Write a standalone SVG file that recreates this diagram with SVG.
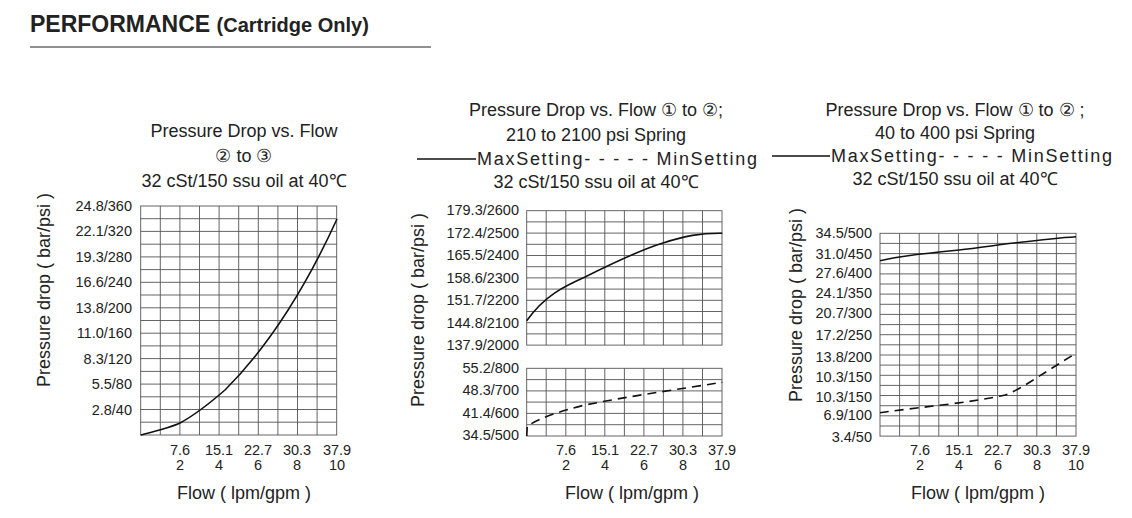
<svg xmlns="http://www.w3.org/2000/svg" width="1132" height="518" viewBox="0 0 1132 518">
<style>
text{font-family:"Liberation Sans",Arial,sans-serif;fill:#222}
.t{font-size:18px;text-anchor:middle}
.l{font-size:18px}
.k{font-size:14.5px;text-anchor:end}
.x{font-size:14.5px;text-anchor:middle}
.g{stroke:#555;stroke-width:0.9;fill:none}
.c{stroke:#111;stroke-width:1.6;fill:none}
.d{stroke:#111;stroke-width:1.6;fill:none;stroke-dasharray:9,6}
</style>
<text x="30" y="32" style="font-size:23px;font-weight:bold">PERFORMANCE <tspan style="font-size:20px">(Cartridge Only)</tspan></text>
<line x1="30" y1="47" x2="431" y2="47" stroke="#222" stroke-width="1.2"/>

<g id="chart1">
<text class="t" x="244" y="137">Pressure Drop vs. Flow</text>
<text class="t" x="244" y="162">② to ③</text>
<text class="t" x="244" y="187">32 cSt/150 ssu oil at 40℃</text>
<text class="t" transform="translate(50,290) rotate(-90)">Pressure drop ( bar/psi )</text>
<rect x="140.7" y="206" width="196" height="229" class="g"/>
<path class="g" d="M160.3 206V435M179.9 206V435M199.5 206V435M219.1 206V435M238.7 206V435M258.3 206V435M277.9 206V435M297.5 206V435M317.1 206V435M140.7 218.7H336.7M140.7 231.4H336.7M140.7 244.2H336.7M140.7 256.9H336.7M140.7 269.6H336.7M140.7 282.3H336.7M140.7 295H336.7M140.7 307.8H336.7M140.7 320.5H336.7M140.7 333.2H336.7M140.7 345.9H336.7M140.7 358.6H336.7M140.7 371.4H336.7M140.7 384.1H336.7M140.7 396.8H336.7M140.7 409.5H336.7M140.7 422.2H336.7"/>
<g class="k">
<text x="132" y="211">24.8/360</text><text x="132" y="236">22.1/320</text><text x="132" y="262">19.3/280</text><text x="132" y="287">16.6/240</text><text x="132" y="313">13.8/200</text><text x="132" y="338">11.0/160</text><text x="132" y="364">8.3/120</text><text x="132" y="389">5.5/80</text><text x="132" y="415">2.8/40</text>
</g>
<g class="x">
<text x="180" y="455">7.6</text><text x="219" y="455">15.1</text><text x="258" y="455">22.7</text><text x="297" y="455">30.3</text><text x="337" y="455">37.9</text>
<text x="180" y="470">2</text><text x="219" y="470">4</text><text x="258" y="470">6</text><text x="297" y="470">8</text><text x="337" y="470">10</text>
</g>
<text class="t" x="244" y="499">Flow ( lpm/gpm )</text>
</g>

<g id="chart2">
<text class="t" x="596" y="116">Pressure Drop vs. Flow ① to ②;</text>
<text class="t" x="596" y="141">210 to 2100 psi Spring</text>
<text class="l" x="477" y="165" textLength="280" lengthAdjust="spacing">MaxSetting- - - - - MinSetting</text>
<text class="t" x="596" y="188">32 cSt/150 ssu oil at 40℃</text>
<text class="t" transform="translate(424,310) rotate(-90)">Pressure drop ( bar/psi )</text>
<rect x="526.7" y="210.7" width="195.3" height="134.4" class="g"/>
<rect x="526.7" y="368.3" width="195.3" height="67.7" class="g"/>
<path class="g" d="M546.2 210.7V345.1M565.8 210.7V345.1M585.3 210.7V345.1M604.8 210.7V345.1M624.4 210.7V345.1M643.9 210.7V345.1M663.4 210.7V345.1M682.9 210.7V345.1M702.5 210.7V345.1M546.2 368.3V436M565.8 368.3V436M585.3 368.3V436M604.8 368.3V436M624.4 368.3V436M643.9 368.3V436M663.4 368.3V436M682.9 368.3V436M702.5 368.3V436M526.7 221.9H722M526.7 233.1H722M526.7 244.3H722M526.7 255.5H722M526.7 266.7H722M526.7 277.9H722M526.7 289.1H722M526.7 300.3H722M526.7 311.5H722M526.7 322.7H722M526.7 333.9H722M526.7 379.6H722M526.7 390.9H722M526.7 402.1H722M526.7 413.4H722M526.7 424.7H722"/>
<g class="k">
<text x="519" y="215">179.3/2600</text><text x="519" y="238">172.4/2500</text><text x="519" y="260">165.5/2400</text><text x="519" y="283">158.6/2300</text><text x="519" y="305">151.7/2200</text><text x="519" y="328">144.8/2100</text><text x="519" y="350">137.9/2000</text>
<text x="519" y="373">55.2/800</text><text x="519" y="395">48.3/700</text><text x="519" y="418">41.4/600</text><text x="519" y="440">34.5/500</text>
</g>
<g class="x">
<text x="566" y="455">7.6</text><text x="605" y="455">15.1</text><text x="644" y="455">22.7</text><text x="683" y="455">30.3</text><text x="722" y="455">37.9</text>
<text x="566" y="470">2</text><text x="605" y="470">4</text><text x="644" y="470">6</text><text x="683" y="470">8</text><text x="722" y="470">10</text>
</g>
<text class="t" x="632" y="499">Flow ( lpm/gpm )</text>
</g>

<g id="chart3">
<text class="t" x="955" y="116">Pressure Drop vs. Flow ① to ② ;</text>
<text class="t" x="955" y="139">40 to 400 psi Spring</text>
<text class="l" x="831" y="162" textLength="281" lengthAdjust="spacing">MaxSetting- - - - - MinSetting</text>
<text class="t" x="955" y="185">32 cSt/150 ssu oil at 40℃</text>
<text class="t" transform="translate(802,305) rotate(-90)">Pressure drop ( bar/psi )</text>
<rect x="880" y="233.3" width="196" height="202.8" class="g"/>
<path class="g" d="M899.6 233.3V436.1M919.2 233.3V436.1M938.8 233.3V436.1M958.4 233.3V436.1M978 233.3V436.1M997.6 233.3V436.1M1017.2 233.3V436.1M1036.8 233.3V436.1M1056.4 233.3V436.1M880 243.4H1076M880 253.6H1076M880 263.7H1076M880 273.9H1076M880 284H1076M880 294.1H1076M880 304.3H1076M880 314.4H1076M880 324.6H1076M880 334.7H1076M880 344.8H1076M880 355H1076M880 365.1H1076M880 375.3H1076M880 385.4H1076M880 395.5H1076M880 405.7H1076M880 415.8H1076M880 426H1076"/>
<g class="k">
<text x="872" y="238">34.5/500</text><text x="872" y="259">31.0/450</text><text x="872" y="278">27.6/400</text><text x="872" y="298">24.1/350</text><text x="872" y="318">20.7/300</text><text x="872" y="340">17.2/250</text><text x="872" y="362">13.8/200</text><text x="872" y="382">10.3/150</text><text x="872" y="402">10.3/150</text><text x="872" y="420">6.9/100</text><text x="872" y="442">3.4/50</text>
</g>
<g class="x">
<text x="920" y="455">7.6</text><text x="959" y="455">15.1</text><text x="998" y="455">22.7</text><text x="1037" y="455">30.3</text><text x="1076" y="455">37.9</text>
<text x="920" y="470">2</text><text x="959" y="470">4</text><text x="998" y="470">6</text><text x="1037" y="470">8</text><text x="1076" y="470">10</text>
</g>
<text class="t" x="978" y="499">Flow ( lpm/gpm )</text>
</g>

<g id="connectors">
<line x1="417" y1="159" x2="476" y2="159" class="c" stroke-width="1.2"/>
<line x1="772" y1="156" x2="830" y2="156" class="c" stroke-width="1.2"/>
<path class="c" d="M140.7 435 C160 430 172 427 180 423 C195 415 210 403 225 390 C260 355 300 300 337 219"/>
<path class="c" d="M526.7 320.7 C545 295 565 286 585 277 C615 262 640 250 663 243 C685 236 700 233 722.3 233.3"/>
<path class="d" d="M526.7 436 L527.3 426 C540 418 560 411 585 405 C630 396 680 389 722.3 382.3"/>
<path class="c" d="M880 260.7 C900 256 920 254 959 250 C1000 245 1040 239 1076 236.7"/>
<path class="d" d="M880 412.7 C920 407 970 403 1005 395 C1020 390 1035 378 1076 353.3"/>
</g>
</svg>
